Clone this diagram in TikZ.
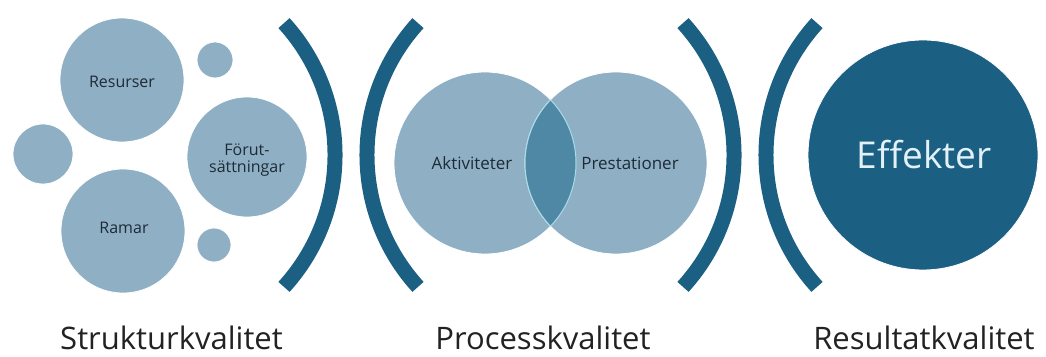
\documentclass[tikz,border=0pt]{standalone}
\usepackage{fontspec}
\setmainfont{Open Sans}
\definecolor{lightc}{HTML}{8FB0C4}
\definecolor{overc}{HTML}{4F88A5}
\definecolor{darkc}{HTML}{1B5F83}
\definecolor{edgec}{HTML}{A9DBE9}
\definecolor{txtc}{HTML}{1E2A38}
\definecolor{efftxt}{HTML}{E2F2F8}
\definecolor{labc}{HTML}{222222}
\tikzset{
  lcirc/.style={circle, fill=lightc, draw=white, line width=0.8pt, inner sep=0pt},
  dcirc/.style={circle, fill=darkc, draw=white, line width=0.8pt, inner sep=0pt},
  ctext/.style={text=txtc, font=\fontsize{16}{17}\selectfont, align=center, inner sep=0pt},
  bracketarc/.style={draw=darkc, line width=15pt, line cap=butt},
  qlabel/.style={text=labc, font=\fontsize{31}{33}\selectfont, anchor=base, inner sep=0pt, text depth=0pt}
}
\begin{document}
\begin{tikzpicture}[x=1pt,y=1pt]
\useasboundingbox (0,0) rectangle (1046,356);
% Struktur circles
\node[lcirc, minimum size=124pt] (res) at (122,276) {};
\node[lcirc, minimum size=36pt] (s1) at (215,296) {};
\node[lcirc, minimum size=60pt] (s2) at (43,202) {};
\node[lcirc, minimum size=120pt] (for) at (247,199) {};
\node[lcirc, minimum size=124pt] (ram) at (123,125) {};
\node[lcirc, minimum size=34pt] (s3) at (214,111) {};
\node[ctext] (tres) at (122,274) {Resurser};
\node[ctext] (tfor) at (247,196) {Förut-\\sättningar};
\node[ctext] (tram) at (124,128) {Ramar};
% Brackets
\draw[bracketarc] (284,69.1) arc[start angle=-42.3, end angle=42.3, radius=196];
\draw[bracketarc] (418,332.9) arc[start angle=137.7, end angle=222.3, radius=196];
\draw[bracketarc] (683,69.1) arc[start angle=-42.3, end angle=42.3, radius=196];
\draw[bracketarc] (817,332.9) arc[start angle=137.7, end angle=222.3, radius=196];
% Venn
\node[lcirc, minimum size=182pt] (akt) at (485,193) {};
\node[lcirc, minimum size=182pt] (pre) at (616,193) {};
\begin{scope}
  \clip (akt.center) circle (91);
  \fill[overc] (pre.center) circle (91);
  \draw[edgec, line width=1pt] (pre.center) circle (91);
\end{scope}
\begin{scope}
  \clip (pre.center) circle (91);
  \draw[edgec, line width=1pt] (akt.center) circle (91);
\end{scope}
\node[ctext, font=\fontsize{17}{18}\selectfont] (takt) at (472,193) {Aktiviteter};
\node[ctext, font=\fontsize{17}{18}\selectfont] (tpre) at (630,193) {Prestationer};
% Effekter
\node[dcirc, minimum size=230pt] (eff) at (923,201) {};
\node[text=efftxt, font=\fontsize{37}{40}\selectfont, inner sep=0pt] (teff) at (924,201) {Effekter};
% Labels
\node[qlabel] (l1) at (171.5,7) {Strukturkvalitet};
\node[qlabel] (l2) at (543,7) {Processkvalitet};
\node[qlabel] (l3) at (924,7) {Resultatkvalitet};
\end{tikzpicture}
\end{document}
